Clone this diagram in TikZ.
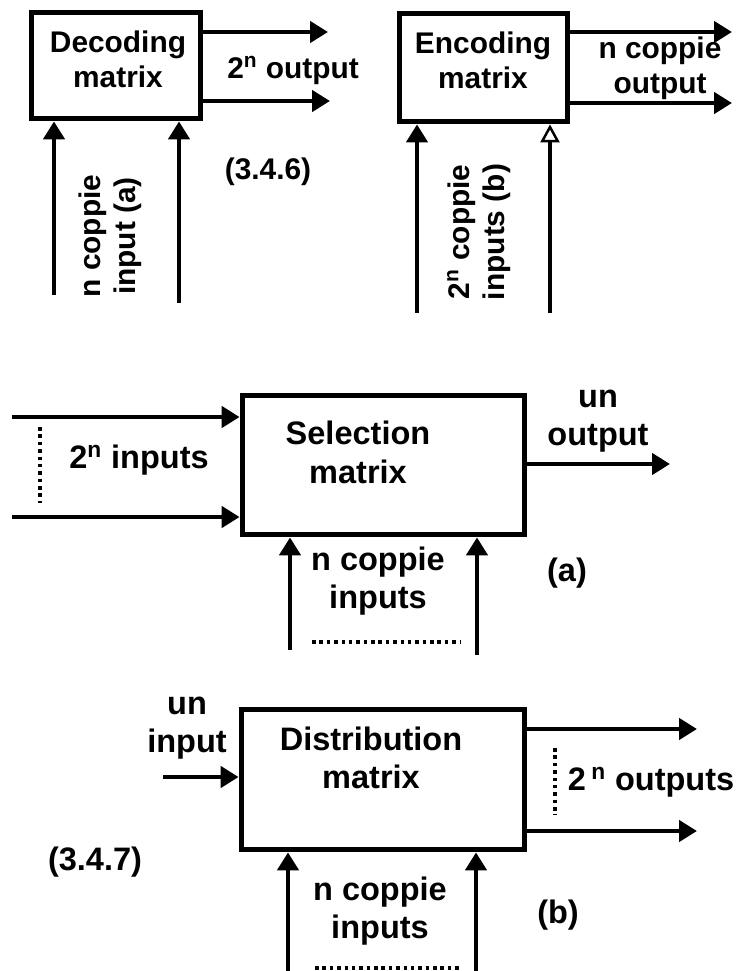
\documentclass[tikz,border=0pt]{standalone}
\usepackage{fontspec}
\setmainfont{Liberation Sans}
\usetikzlibrary{arrows.meta,positioning}

\begin{document}
\begin{tikzpicture}[
  font=\bfseries\fontsize{17}{20}\selectfont,
  big/.style={font=\bfseries\fontsize{18.5}{22}\selectfont},
  matbox/.style={draw,line width=3pt,inner sep=0pt},
  lbl/.style={align=center,inner sep=0pt},
  sig/.style={line width=2.6pt,-{Triangle[length=0.36cm,width=0.42cm]}},
  opensig/.style={line width=2.6pt,-{Triangle[open,fill=white,length=0.36cm,width=0.38cm,line width=1.4pt]}},
  dots/.style={line width=2.2pt,dash pattern=on 2pt off 2.2pt}
]
\useasboundingbox (0,0) rectangle (14.8,-19.42);

% decoding matrix
\node[matbox,minimum width=3.39cm,minimum height=2.13cm] (dec) at (2.32,-1.31) {};
\node[lbl] (dec-txt) at (2.36,-1.18) {Decoding\\matrix};
\coordinate (dec-o1) at (6.56,-0.64);
\coordinate (dec-o2) at (6.6,-2.02);
\coordinate (dec-i1) at (1.08,-5.9);
\coordinate (dec-i2) at (3.58,-6.06);
\draw[sig] (dec.east |- dec-o1) -- (dec-o1);
\draw[sig] (dec.east |- dec-o2) -- (dec-o2);
\draw[sig] (dec-i1) -- (dec-i1 |- dec.south);
\draw[sig] (dec-i2) -- (dec-i2 |- dec.south);
\node[lbl] (dec-out) at (5.86,-1.4) {2\textsuperscript{n} output};
\node[lbl,rotate=90] (dec-in) at (2.2,-4.72) {n coppie\\input (a)};
\node[lbl] (eq1) at (5.36,-3.44) {(3.4.6)};

% encoding matrix
\node[matbox,minimum width=3.37cm,minimum height=2.17cm] (enc) at (9.67,-1.35) {};
\node[lbl] (enc-txt) at (9.66,-1.2) {Encoding\\matrix};
\coordinate (enc-o1) at (14.64,-0.64);
\coordinate (enc-o2) at (14.64,-2.06);
\coordinate (enc-i1) at (8.34,-6.26);
\coordinate (enc-i2) at (11.0,-6.26);
\draw[sig] (enc.east |- enc-o1) -- (enc-o1);
\draw[sig] (enc.east |- enc-o2) -- (enc-o2);
\draw[sig] (enc-i1) -- (enc-i1 |- enc.south);
\draw[opensig] (enc-i2) -- (enc-i2 |- enc.south);
\node[lbl] (enc-out) at (13.2,-1.36) {n coppie\\output};
\node[lbl,rotate=90] (enc-in) at (9.58,-4.64) {2\textsuperscript{n} coppie\\inputs (b)};

% selection matrix
\node[matbox,minimum width=5.65cm,minimum height=2.79cm] (sel) at (7.67,-9.3) {};
\node[lbl,big] (sel-txt) at (7.16,-9.05) {Selection\\matrix};
\coordinate (sel-i1) at (0.24,-8.34);
\coordinate (sel-i2) at (0.24,-10.34);
\coordinate (sel-o) at (13.4,-9.28);
\coordinate (sel-c1) at (5.8,-13.0);
\coordinate (sel-c2) at (9.54,-13.1);
\draw[sig] (sel-i1) -- (sel-i1 -| sel.west);
\draw[sig] (sel-i2) -- (sel-i2 -| sel.west);
\draw[sig] (sel.east |- sel-o) -- (sel-o);
\draw[sig] (sel-c1) -- (sel-c1 |- sel.south);
\draw[sig] (sel-c2) -- (sel-c2 |- sel.south);
\coordinate (sel-d1) at (0.8,-8.54);
\coordinate (sel-d2) at (0.8,-10.06);
\draw[dots] (sel-d1) -- (sel-d2);
\coordinate (sel-d3) at (6.24,-12.84);
\coordinate (sel-d4) at (9.2,-12.84);
\draw[dots] (sel-d3) -- (sel-d4);
\node[lbl,big] (sel-in) at (2.78,-9.2) {2\textsuperscript{n} inputs};
\node[lbl,big] (sel-out) at (11.96,-8.42) {un\\output};
\node[lbl,big] (sel-ctl) at (7.56,-11.62) {n coppie\\inputs};
\node[lbl,big] (sel-a) at (11.34,-11.46) {(a)};

% distribution matrix
\node[matbox,minimum width=5.67cm,minimum height=2.81cm] (dis) at (7.66,-15.59) {};
\node[lbl,big] (dis-txt) at (7.42,-15.16) {Distribution\\matrix};
\coordinate (dis-i) at (3.26,-15.54);
\coordinate (dis-o1) at (13.94,-14.58);
\coordinate (dis-o2) at (13.94,-16.62);
\coordinate (dis-c1) at (5.76,-19.42);
\coordinate (dis-c2) at (9.52,-19.42);
\draw[sig] (dis-i) -- (dis-i -| dis.west);
\draw[sig] (dis.east |- dis-o1) -- (dis-o1);
\draw[sig] (dis.east |- dis-o2) -- (dis-o2);
\draw[sig] (dis-c1) -- (dis-c1 |- dis.south);
\draw[sig] (dis-c2) -- (dis-c2 |- dis.south);
\coordinate (dis-d1) at (11.1,-14.96);
\coordinate (dis-d2) at (11.1,-16.3);
\draw[dots] (dis-d1) -- (dis-d2);
\coordinate (dis-d3) at (6.3,-19.36);
\coordinate (dis-d4) at (9.2,-19.36);
\draw[dots] (dis-d3) -- (dis-d4);
\node[lbl,big] (dis-in) at (3.74,-14.56) {un\\input};
\node[lbl,big] (dis-out) at (13.02,-15.64) {2\,\textsuperscript{n} outputs};
\node[lbl,big] (dis-ctl) at (7.6,-18.22) {n coppie\\inputs};
\node[lbl,big] (dis-b) at (11.16,-18.3) {(b)};
\node[lbl,big] (eq2) at (1.9,-17.24) {(3.4.7)};
\end{tikzpicture}
\end{document}
